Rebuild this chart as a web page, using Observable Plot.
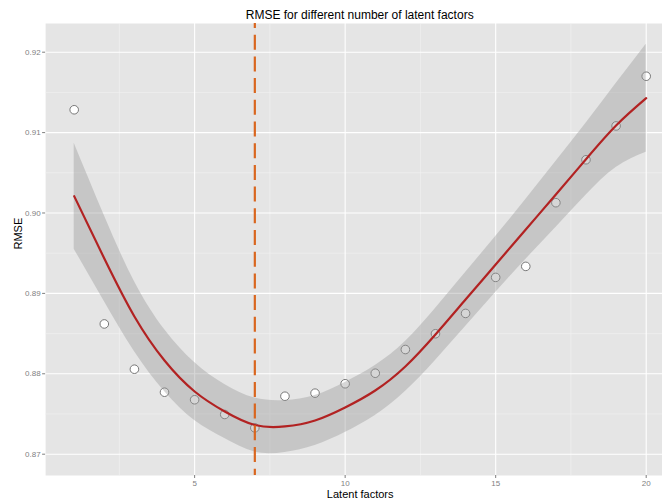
<!DOCTYPE html>
<html>
<head>
<meta charset="utf-8">
<script src="https://cdn.jsdelivr.net/npm/d3@7"></script>
<script src="https://cdn.jsdelivr.net/npm/@observablehq/plot@0.6"></script>
<style>
  html, body { margin: 0; padding: 0; background: white; }
  #wrap { position: relative; width: 662px; height: 499px; overflow: hidden; background: white; font-family: "Liberation Sans", Arial, sans-serif; }
  #title { position: absolute; left: 359.7px; top: 0; transform: translateX(-50%); font-size: 12px; white-space: nowrap; padding-top: 6.7px; line-height: 16.3px; color: #000; }
  #chart { position: absolute; top: 23px; left: 0; width: 675px; }
  #chart svg { max-width: none; }
</style>
</head>
<body>
<div id="wrap">
  <div id="title">RMSE for different number of latent factors</div>
  <div id="chart"></div>
</div>
<script>
// Observed RMSE per number of latent factors
const factors = [1, 2, 3, 4, 5, 6, 7, 8, 9, 10, 11, 12, 13, 14, 15, 16, 17, 18, 19, 20];
const rmse = [0.91284, 0.88620, 0.88057, 0.87771, 0.87677, 0.87494, 0.87328, 0.87721, 0.87759, 0.87876,
              0.88007, 0.88302, 0.88498, 0.88751, 0.89199, 0.89336, 0.90128, 0.90662, 0.91083, 0.91701];
// Smoothed fit (loess) and its confidence band at each factor
const fit = [0.90209, 0.89434, 0.88713, 0.88165, 0.87780, 0.87531, 0.87363, 0.87345, 0.87419, 0.87581,
             0.87792, 0.88091, 0.88489, 0.88924, 0.89359, 0.89795, 0.90230, 0.90669, 0.91088, 0.91428];
const lower = [0.89550, 0.88899, 0.88278, 0.87779, 0.87419, 0.87195, 0.87027, 0.87022, 0.87108, 0.87270,
               0.87481, 0.87780, 0.88166, 0.88588, 0.89011, 0.89422, 0.89820, 0.90221, 0.90566, 0.90756];
const upper = [0.90868, 0.89969, 0.89148, 0.88551, 0.88141, 0.87867, 0.87699, 0.87668, 0.87730, 0.87892,
               0.88103, 0.88402, 0.88812, 0.89260, 0.89707, 0.90168, 0.90640, 0.91117, 0.91610, 0.92100];
const bestFactor = [7];
const xTicks = [5, 10, 15, 20];
const xMinor = [2.5, 7.5, 12.5, 17.5];
const yTicks = [0.87, 0.88, 0.89, 0.90, 0.91, 0.92];
const yMinor = [0.875, 0.885, 0.895, 0.905, 0.915];
const xDomain = [0.05, 20.95];
const yDomain = [0.86735, 0.92357];

const points = factors.map((f, i) => ({f, rmse: rmse[i]}));
const smooth = factors.map((f, i) => ({f, fit: fit[i], lo: lower[i], hi: upper[i]}));

const grey = "#7F7F7F";
const chart = Plot.plot({
  width: 675,
  height: 476,
  marginLeft: 45.1,
  marginRight: 0.7,
  marginTop: 0,
  marginBottom: 24,
  x: {domain: xDomain},
  y: {domain: yDomain},
  style: {fontFamily: "'Liberation Sans', Arial, sans-serif", background: "transparent", overflow: "hidden", maxWidth: "none"},
  marks: [
    Plot.frame({fill: "#E5E5E5", stroke: null}),
    Plot.gridX(xMinor, {stroke: "#F2F2F2", strokeOpacity: 1, strokeWidth: 0.6}),
    Plot.gridY(yMinor, {stroke: "#F2F2F2", strokeOpacity: 1, strokeWidth: 0.6}),
    Plot.gridX(xTicks, {stroke: "#FFFFFF", strokeOpacity: 1, strokeWidth: 1.1}),
    Plot.gridY(yTicks, {stroke: "#FFFFFF", strokeOpacity: 1, strokeWidth: 1.1}),
    Plot.axisX(xTicks, {tickSize: 3, tickPadding: 2, fontSize: 8, color: grey, label: null}),
    Plot.axisY(yTicks, {tickSize: 3, tickPadding: 2, fontSize: 8, color: grey, tickFormat: ".2f", label: null}),
    Plot.dot(points, {x: "f", y: "rmse", r: 4.3, fill: "white", stroke: "#777777", strokeWidth: 1}),
    Plot.areaY(smooth, {x: "f", y1: "lo", y2: "hi", fill: "#999999", fillOpacity: 0.4, curve: "natural"}),
    Plot.lineY(smooth, {x: "f", y: "fit", stroke: "#B22222", strokeWidth: 2.2, curve: "natural"}),
    Plot.ruleX(bestFactor, {x: d => d, y1: yDomain[1], y2: yDomain[0], stroke: "#D9661F", strokeWidth: 2.2,
                            strokeDasharray: "15,6.7", strokeDashoffset: 10}),
    Plot.text(["Latent factors"], {text: d => d, frameAnchor: "bottom", dy: 22.3, lineAnchor: "bottom",
                                   fontSize: 11, fill: "#000"}),
    Plot.text(["RMSE"], {text: d => d, frameAnchor: "left", dx: -23.4, rotate: -90, lineAnchor: "bottom",
                         fontSize: 11, fill: "#000"})
  ]
});
document.getElementById("chart").appendChild(chart);
</script>
</body>
</html>
